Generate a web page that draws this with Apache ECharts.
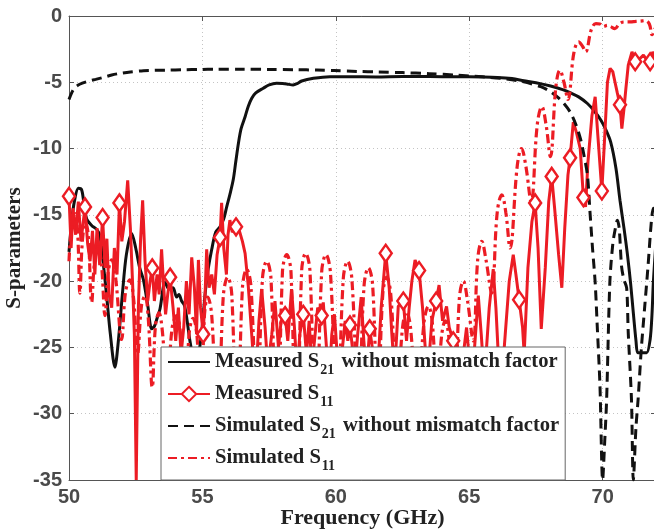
<!DOCTYPE html>
<html><head><meta charset="utf-8">
<script src="https://cdn.jsdelivr.net/npm/echarts@6/dist/echarts.min.js"></script>
<style>html,body{margin:0;padding:0;background:#fff}#c{width:654px;height:531px}</style>
</head><body><div id="c"></div>
<script>
// ---- tick labels ----
const xTickLabels = [50, 55, 60, 65, 70];
const xMax = 72;
const yTickLabels = [-35, -30, -25, -20, -15, -10, -5, 0];

// ---- series names ----
const seriesNames = [
  'Measured S21 without mismatch factor',
  'Measured S11',
  'Simulated S21 without mismatch factor',
  'Simulated S11'
];

// ---- Measured S21 (black solid) [GHz, dB] ----
const measS21 = [
 [50.0,-17.8],[50.1,-15.5],[50.2,-14.0],[50.35,-13.0],[50.47,-13.1],[50.55,-14.0],[50.66,-15.3],[50.85,-15.8],
 [51.04,-16.1],[51.16,-16.6],[51.25,-18.0],[51.41,-21.1],[51.55,-24.0],[51.72,-26.5],[51.85,-24.5],[52.0,-21.0],
 [52.15,-18.0],[52.35,-16.4],[52.5,-17.5],[52.65,-19.0],[52.79,-19.9],[52.95,-21.8],[53.1,-23.6],[53.2,-23.4],
 [53.3,-22.8],[53.41,-22.1],[53.6,-20.1],[53.75,-20.6],[53.9,-20.5],[54.03,-21.2],[54.12,-21.0],[54.22,-21.5],
 [54.32,-21.8],[54.4,-22.6],[54.54,-24.6],[54.7,-26.0],[54.85,-25.5],[54.97,-23.9],[55.1,-21.0],[55.2,-19.3],
 [55.35,-17.6],[55.5,-16.3],[55.66,-15.9],[55.8,-15.3],[55.91,-14.4],[56.05,-13.3],[56.16,-12.3],[56.25,-11.0],
 [56.35,-9.6],[56.45,-8.5],[56.6,-7.6],[56.72,-6.8],[56.85,-6.2],[57.0,-5.8],[57.28,-5.45],[57.5,-5.2],
 [57.78,-5.08],[58.0,-5.1],[58.16,-5.13],[58.4,-5.2],[58.55,-5.1],[58.72,-4.9],[59.16,-4.7],[59.78,-4.58],
 [60.5,-4.58],[61.5,-4.6],[62.5,-4.57],[63.5,-4.57],[64.5,-4.58],[65.5,-4.6],[66.05,-4.63],[66.6,-4.72],
 [67.05,-4.88],[67.5,-5.03],[68.05,-5.28],[68.5,-5.55],[68.8,-5.8],[69.1,-6.1],[69.43,-6.6],[69.7,-7.2],
 [69.93,-7.84],[70.1,-8.5],[70.3,-9.5],[70.5,-11.5],[70.65,-13.9],[70.8,-16.0],[70.93,-18.0],[71.05,-20.2],
 [71.15,-22.4],[71.25,-24.5],[71.32,-25.4],[71.5,-25.4],[71.65,-25.4],[71.78,-24.4],[71.85,-22.5],[71.9,-20.1],
 [72.0,-17.0]
];

// ---- Measured S11 (red solid with diamonds) ----
const measS11 = [
 [50.0,-13.6],[50.08,-17.5],[50.15,-14.5],[50.25,-16.5],[50.35,-14.0],[50.45,-17.0],[50.6,-14.4],[50.7,-17.2],
 [50.79,-18.5],[50.88,-16.2],[50.97,-19.5],[51.05,-16.0],[51.15,-18.8],[51.26,-15.2],[51.35,-19.0],[51.42,-16.8],
 [51.5,-21.0],[51.6,-22.0],[51.7,-17.5],[51.8,-19.5],[51.89,-14.1],[51.98,-17.0],[52.08,-15.5],[52.2,-12.4],
 [52.3,-16.0],[52.38,-20.0],[52.45,-24.0],[52.52,-35.0],[52.6,-22.0],[52.68,-17.0],[52.76,-13.9],[52.85,-18.5],
 [52.95,-21.5],[53.04,-20.0],[53.12,-19.0],[53.2,-21.5],[53.3,-19.5],[53.38,-21.0],[53.47,-17.6],[53.55,-20.5],
 [53.62,-22.5],[53.7,-21.0],[53.79,-19.7],[53.9,-22.0],[54.0,-24.5],[54.1,-22.0],[54.2,-25.5],[54.3,-23.5],
 [54.4,-20.0],[54.5,-22.5],[54.6,-18.2],[54.7,-20.5],[54.78,-24.0],[54.85,-18.4],[54.93,-22.0],[55.03,-24.0],
 [55.1,-21.0],[55.16,-17.6],[55.25,-20.5],[55.35,-19.5],[55.45,-21.0],[55.55,-18.0],[55.66,-16.7],[55.72,-14.1],
 [55.8,-17.5],[55.9,-19.5],[55.96,-16.5],[56.03,-15.4],[56.12,-16.3],[56.26,-15.9],[56.4,-16.3],[56.5,-17.0],
 [56.6,-17.9],[56.72,-20.4],[56.85,-24.1],[56.95,-27.0],[57.05,-25.5],[57.12,-23.0],[57.22,-20.6],[57.35,-23.5],
 [57.45,-26.5],[57.6,-24.0],[57.72,-21.5],[57.85,-25.0],[57.95,-23.0],[58.1,-22.6],[58.2,-24.5],[58.34,-20.6],
 [58.45,-23.5],[58.55,-27.0],[58.65,-24.0],[58.78,-22.5],[58.9,-25.5],[59.0,-23.0],[59.1,-26.5],[59.2,-24.5],
 [59.32,-22.0],[59.47,-22.6],[59.53,-21.6],[59.65,-25.0],[59.75,-27.5],[59.85,-24.0],[59.95,-22.5],[60.05,-25.5],
 [60.15,-28.0],[60.25,-25.0],[60.35,-23.0],[60.45,-24.5],[60.53,-23.3],[60.62,-25.0],[60.72,-26.5],[60.82,-24.0],
 [60.95,-21.2],[61.05,-24.5],[61.15,-27.0],[61.27,-23.6],[61.4,-25.5],[61.55,-27.5],[61.7,-22.0],[61.87,-17.9],
 [62.0,-20.5],[62.1,-24.0],[62.2,-27.0],[62.34,-21.9],[62.53,-21.5],[62.65,-24.5],[62.75,-22.0],[62.85,-20.0],
 [62.97,-18.4],[63.12,-19.2],[63.25,-22.0],[63.35,-25.0],[63.45,-27.0],[63.6,-23.0],[63.76,-21.5],[63.87,-20.3],
 [64.0,-23.0],[64.15,-21.9],[64.25,-23.5],[64.4,-24.5],[64.5,-27.0],[64.6,-29.0],[64.75,-26.0],[64.9,-23.5],
 [65.05,-27.0],[65.2,-25.0],[65.34,-21.1],[65.45,-24.0],[65.55,-27.0],[65.65,-25.0],[65.75,-22.0],[65.9,-19.1],
 [66.0,-22.0],[66.1,-26.0],[66.2,-28.0],[66.35,-24.0],[66.5,-20.0],[66.65,-18.0],[66.75,-19.5],[66.87,-21.4],
 [67.0,-23.5],[67.06,-25.5],[67.2,-19.0],[67.35,-15.5],[67.47,-14.1],[67.58,-17.5],[67.7,-23.6],[67.85,-19.0],
 [67.98,-14.0],[68.09,-12.1],[68.2,-14.5],[68.35,-18.0],[68.47,-20.5],[68.58,-16.0],[68.7,-12.0],[68.78,-10.7],
 [68.9,-8.0],[69.02,-8.8],[69.16,-10.0],[69.28,-13.7],[69.36,-14.4],[69.45,-11.0],[69.6,-7.5],[69.72,-6.1],
 [69.82,-9.0],[69.97,-13.2],[70.08,-9.0],[70.18,-5.0],[70.28,-3.95],[70.38,-4.2],[70.46,-4.96],[70.55,-5.8],
 [70.65,-6.7],[70.72,-8.5],[70.8,-7.0],[70.87,-5.5],[70.96,-3.7],[71.1,-2.7],[71.22,-3.45],[71.35,-3.3],
 [71.53,-2.95],[71.65,-3.3],[71.78,-3.45],[71.88,-2.7],[72.0,-3.3]
];
// frequencies of Measured S11 that carry a diamond marker
const measS11Markers = [50.0,50.6,51.26,51.89,53.12,53.79,55.03,55.66,56.26,58.1,58.78,59.47,60.53,61.27,
 61.87,62.53,63.12,63.76,64.4,66.87,67.47,68.09,68.78,69.28,69.97,70.65,71.22,71.78];

// ---- Simulated S21 (black dashed) ----
const simS21 = [
 [50.0,-6.3],[50.1,-5.8],[50.22,-5.4],[50.4,-5.15],[50.66,-4.96],[51.0,-4.78],[51.29,-4.63],[51.6,-4.45],
 [51.91,-4.33],[52.3,-4.22],[52.79,-4.13],[53.2,-4.1],[53.66,-4.08],[54.3,-4.05],[54.9,-4.03],[55.5,-4.02],
 [56.5,-4.02],[57.5,-4.03],[58.5,-4.05],[59.3,-4.08],[59.93,-4.12],[60.8,-4.18],[61.6,-4.22],[62.5,-4.27],
 [63.5,-4.35],[64.55,-4.46],[65.2,-4.55],[65.8,-4.63],[66.4,-4.75],[67.0,-4.95],[67.68,-5.33],[68.0,-5.65],
 [68.3,-6.1],[68.55,-6.6],[68.8,-7.3],[69.0,-8.2],[69.18,-9.35],[69.3,-10.5],[69.43,-12.0],[69.53,-14.9],
 [69.62,-17.5],[69.72,-20.1],[69.8,-23.5],[69.9,-27.9],[70.0,-35.0],[70.08,-32.0],[70.15,-28.9],[70.27,-20.1],
 [70.38,-17.2],[70.46,-16.2],[70.55,-15.4],[70.62,-16.0],[70.71,-18.9],[70.8,-19.9],[70.9,-20.5],[70.96,-23.9],
 [71.08,-28.9],[71.15,-35.0],[71.25,-31.0],[71.33,-28.9],[71.45,-25.1],[71.57,-22.1],[71.7,-18.9],[71.83,-15.4],
 [71.9,-14.5],[72.0,-15.5]
];

// ---- Simulated S11 (red dash-dot) ----
const simS11 = [
 [50.0,-18.5],[50.1,-15.8],[50.22,-14.9],[50.32,-16.2],[50.41,-20.9],[50.5,-17.0],[50.62,-15.6],[50.72,-16.5],
 [50.85,-21.6],[50.96,-18.5],[51.1,-17.4],[51.22,-18.8],[51.35,-22.6],[51.47,-19.3],[51.6,-18.4],[51.75,-19.8],
 [51.97,-24.4],[52.12,-20.8],[52.28,-19.9],[52.42,-21.3],[52.57,-25.5],[52.72,-21.8],[52.85,-21.1],[52.97,-22.8],
 [53.12,-28.0],[53.24,-23.4],[53.37,-22.4],[53.5,-23.8],[53.68,-28.5],[53.86,-23.6],[54.03,-22.6],[54.18,-24.0],
 [54.35,-30.0],[54.5,-24.0],[54.65,-22.8],[54.8,-24.2],[54.95,-31.0],[55.07,-22.8],[55.2,-21.2],[55.35,-22.6],
 [55.58,-32.0],[55.78,-21.2],[55.95,-19.7],[56.1,-21.0],[56.3,-33.0],[56.5,-20.5],[56.66,-19.1],[56.82,-20.4],
 [57.05,-31.0],[57.25,-19.8],[57.41,-18.5],[57.57,-19.8],[57.8,-35.0],[58.0,-19.3],[58.16,-18.0],[58.32,-19.3],
 [58.52,-35.0],[58.72,-19.2],[58.87,-17.9],[59.03,-19.2],[59.25,-33.0],[59.47,-19.3],[59.63,-18.0],[59.8,-19.4],
 [60.05,-31.0],[60.28,-19.8],[60.44,-18.5],[60.6,-19.8],[60.85,-30.0],[61.06,-20.3],[61.22,-19.0],[61.38,-20.3],
 [61.57,-30.0],[61.76,-21.0],[61.91,-19.7],[62.06,-21.0],[62.3,-29.0],[62.5,-23.5],[62.65,-22.3],[62.8,-23.5],
 [63.05,-30.0],[63.3,-23.2],[63.47,-21.9],[63.62,-23.2],[63.8,-29.0],[63.96,-24.2],[64.1,-23.0],[64.25,-24.5],
 [64.45,-30.0],[64.63,-21.3],[64.78,-20.0],[64.93,-21.4],[65.15,-24.5],[65.32,-18.3],[65.47,-17.0],[65.62,-18.3],
 [65.84,-20.9],[66.05,-14.8],[66.22,-13.5],[66.37,-14.8],[66.53,-17.5],[66.8,-11.3],[66.96,-10.0],[67.12,-11.3],
 [67.32,-14.0],[67.55,-8.2],[67.72,-6.84],[67.88,-8.2],[68.04,-10.6],[68.25,-5.3],[68.4,-4.1],[68.55,-5.0],
 [68.7,-6.3],[68.92,-2.8],[69.1,-1.95],[69.25,-2.3],[69.36,-2.7],[69.58,-1.0],[69.75,-0.57],[69.9,-0.6],
 [70.03,-0.8],[70.18,-0.7],[70.3,-0.8],[70.46,-0.95],[70.62,-0.6],[70.8,-0.45],[71.03,-0.45],[71.25,-0.4],
 [71.42,-0.38],[71.6,-0.35],[71.75,-0.6],[71.85,-1.4],[71.93,-1.1],[72.0,-0.8]
];

// ---- build chart ----
const RED = '#ec1c24', BLACK = '#111111', AXIS = '#555555';
const xStep = xTickLabels[1] - xTickLabels[0];
const yStep = yTickLabels[1] - yTickLabels[0];
const markerSet = new Set(measS11Markers);
const measS11Data = measS11.map(p => markerSet.has(p[0]) ? {value: p} : {value: p, symbol: 'none'});

const serif = '"Liberation Serif", "Times New Roman", serif';
const sans = '"Liberation Sans", Arial, sans-serif';

function baseAxis(extra) {
  return Object.assign({
    type: 'value',
    axisLine: {show: true, onZero: false, lineStyle: {color: AXIS, width: 1}},
    axisTick: {show: true, inside: true, length: 5, lineStyle: {color: AXIS}},
  }, extra);
}

const chart = echarts.init(document.getElementById('c'), null, {renderer: 'canvas'});
chart.setOption({
  animation: false,
  backgroundColor: '#fff',
  grid: {left: 69, right: -2, top: 16, bottom: 51, containLabel: false, outerBoundsMode: 'none'},
  xAxis: [
    baseAxis({
      position: 'bottom', min: xTickLabels[0], max: xMax, interval: xStep,
      axisLabel: {showMaxLabel: false, alignMinLabel: 'center', color: '#4a4a4a', fontFamily: sans, fontWeight: 'bold', fontSize: 20, margin: 7},
      splitLine: {show: true, lineStyle: {type: [1, 3], color: '#c4c4c4', width: 1}},
      name: 'Frequency (GHz)', nameLocation: 'middle', nameGap: 27, nameMoveOverlap: false,
      nameTextStyle: {fontFamily: serif, fontWeight: 'bold', fontSize: 22, color: '#222'}
    }),
    baseAxis({
      position: 'top', min: xTickLabels[0], max: xMax, interval: xStep,
      axisLabel: {show: false}, splitLine: {show: false}
    })
  ],
  yAxis: [
    baseAxis({
      position: 'left', min: yTickLabels[0], max: yTickLabels[yTickLabels.length - 1], interval: yStep,
      axisLabel: {color: '#4a4a4a', fontFamily: sans, fontWeight: 'bold', fontSize: 20, margin: 7},
      splitLine: {show: true, lineStyle: {type: [1, 3], color: '#c4c4c4', width: 1}},
      name: 'S-parameters', nameLocation: 'middle', nameGap: 44, nameMoveOverlap: false,
      nameTextStyle: {fontFamily: serif, fontWeight: 'bold', fontSize: 21, color: '#222'}
    }),
    baseAxis({
      position: 'right', min: yTickLabels[0], max: yTickLabels[yTickLabels.length - 1], interval: yStep,
      axisLabel: {show: false}, splitLine: {show: false}
    })
  ],
  legend: {
    orient: 'vertical', left: 161, top: 347, z: 20,
    padding: [0, 6, 7, 6], itemGap: 2, itemWidth: 42, itemHeight: 18,
    backgroundColor: '#fff', borderColor: '#666', borderWidth: 1, borderRadius: 0,
    data: [
      {name: seriesNames[0], itemStyle: {opacity: 0}},
      {name: seriesNames[1]},
      {name: seriesNames[2], itemStyle: {opacity: 0}},
      {name: seriesNames[3], itemStyle: {opacity: 0}}
    ],
    formatter: function (name) {
      const m = name.match(/^(.*S)(\d\d)(.*)$/);
      return '{t|' + m[1] + '}{s|' + m[2] + '}' + (m[3] ? '{t|' + m[3] + '}' : '');
    },
    textStyle: {
      rich: {
        t: {fontFamily: serif, fontWeight: 'bold', fontSize: 20.6, color: '#222', lineHeight: 24},
        s: {fontFamily: serif, fontWeight: 'bold', fontSize: 14, color: '#222', lineHeight: 14, padding: [16, 2, 0, 1]}
      }
    }
  },
  series: [
    {name: seriesNames[0], type: 'line', data: measS21, smooth: 0.3, symbol: 'none',
     lineStyle: {color: BLACK, width: 3}, itemStyle: {color: BLACK}, z: 2},
    {name: seriesNames[1], type: 'line', data: measS11Data, smooth: false, symbol: 'diamond', symbolSize: [12, 17],
     showSymbol: true, lineStyle: {color: RED, width: 3},
     itemStyle: {color: '#fff', borderColor: RED, borderWidth: 2.5}, z: 2},
    {name: seriesNames[2], type: 'line', data: simS21, smooth: 0.3, symbol: 'none',
     lineStyle: {color: BLACK, width: 3, type: [10, 6]}, itemStyle: {color: BLACK}, z: 2},
    {name: seriesNames[3], type: 'line', data: simS11, smooth: 0.4, symbol: 'none',
     lineStyle: {color: RED, width: 3.2, type: [9, 4, 3, 4]}, itemStyle: {color: RED}, z: 2}
  ]
});
</script>
</body></html>
